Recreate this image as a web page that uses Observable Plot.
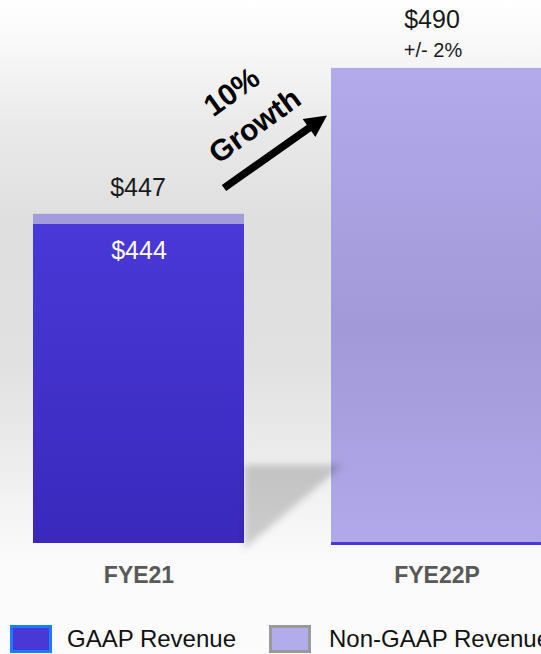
<!DOCTYPE html>
<html>
<head>
<meta charset="utf-8">
<script src="https://cdn.jsdelivr.net/npm/d3@7"></script>
<script src="https://cdn.jsdelivr.net/npm/@observablehq/plot@0.6"></script>
<style>
  html, body { margin: 0; padding: 0; }
  body {
    width: 541px; height: 654px; overflow: hidden; position: relative;
    font-family: "Liberation Sans", Arial, sans-serif;
    background: linear-gradient(to bottom, #ffffff 0px, #fbfbfb 30px, #e9e9e9 130px, #dfdfdf 220px, #e1e1e1 360px, #ebebeb 450px, #f4f4f4 510px, #fafafa 555px, #fcfcfc 654px);
  }
  #chart svg { display: block; }
  .legend { position: absolute; left: 0; top: 625px; width: 541px; height: 29px; }
  .sw { position: absolute; top: 0; width: 42px; height: 28px; box-sizing: border-box; border: 3px solid; }
  .lt { position: absolute; top: 0; height: 28px; line-height: 28px; font-size: 24px; color: #111; white-space: nowrap; }
</style>
</head>
<body>
<div id="chart"></div>
<div class="legend">
  <div class="sw" style="left:10px;background:#4a38d6;border-color:#1a7cff"></div>
  <div class="lt" style="left:67px">GAAP Revenue</div>
  <div class="sw" style="left:269px;background:#b3acea;border-color:#9a9a9a"></div>
  <div class="lt" style="left:329px">Non-GAAP Revenue</div>
</div>
<script>
// ---- data ----
const periods = ["FYE21", "FYE22P"];
const gaapRevenue = [444, null];
const nonGaapRevenue = [447, 490];
const totalLabels = ["$447", "$490"];
const gaapLabels = ["$444", null];
const guidanceNotes = [null, "+/- 2%"];
const growthLabels = ["10%", "Growth"];
const growthLabelValues = [483, 473];
const axisBase = 350;
const axisTop = 510;
const arrowFrom = {period: "FYE21", value: 454.6};
const arrowTo = {period: "FYE22P", value: 476};

const rows = periods.map((p, i) => ({
  period: p, gaap: gaapRevenue[i], nonGaap: nonGaapRevenue[i],
  total: totalLabels[i], gaapLabel: gaapLabels[i], note: guidanceNotes[i]
}));
const gaapRows = rows.filter(d => d.gaap != null);
const baseRows = rows.filter(d => d.gaap == null);

const plot = Plot.plot({
  width: 541, height: 600,
  marginTop: 0, marginBottom: 57, marginLeft: 0, marginRight: 0,
  style: {background: "transparent", fontFamily: "'Liberation Sans', Arial, sans-serif", overflow: "visible"},
  x: {domain: periods, range: [33, 542], paddingInner: 0.292, paddingOuter: 0, axis: null},
  y: {domain: [axisBase, axisTop], axis: null},
  marks: [
    Plot.barY(rows.filter(d => d.period === "FYE21"), {x: "period", y1: axisBase, y2: "nonGaap", fill: "#a39cdc"}),
    Plot.barY(rows.filter(d => d.period !== "FYE21"), {x: "period", y1: axisBase, y2: "nonGaap", fill: "url(#gLight)"}),
    Plot.barY(gaapRows, {x: "period", y1: axisBase, y2: "gaap", fill: "url(#gDark)"}),
    Plot.tickY(baseRows, {x: "period", y: axisBase, stroke: "#4a38d6", strokeWidth: 3}),
    Plot.text(rows.filter(d => d.period === "FYE21"), {x: "period", y: "nonGaap", text: "total", dx: -1, dy: -26, fontSize: 25, fill: "#1a1a1a"}),
    Plot.text(rows.filter(d => d.period !== "FYE21"), {x: "period", y: "nonGaap", text: "total", dx: -5, dy: -48, fontSize: 25, fill: "#1a1a1a"}),
    Plot.text(rows.filter(d => d.note), {x: "period", y: "nonGaap", text: "note", dx: -4, dy: -18, fontSize: 20, fill: "#1a1a1a"}),
    Plot.text(gaapRows, {x: "period", y: "gaap", text: "gaapLabel", dy: 27, fontSize: 25, fill: "#ffffff"}),
    Plot.text(periods, {x: d => d, frameAnchor: "bottom", lineAnchor: "top", dy: 23, fontSize: 23, fontWeight: "bold", fill: "#595959", letterSpacing: "1.5px"}),
    Plot.text([growthLabels[0]], {x: () => "FYE21", y: () => growthLabelValues[0], text: d => d, dx: 93, rotate: -36, fontSize: 30, fontWeight: "bold", fill: "#000"}),
    Plot.text([growthLabels[1]], {x: () => "FYE21", y: () => growthLabelValues[1], text: d => d, dx: 116, rotate: -36, fontSize: 30, fontWeight: "bold", fill: "#000"})
  ]
});
document.getElementById("chart").appendChild(plot);

// gradients, shadow and arrow drawn with the plot's scales
const svg = d3.select(plot);
const defs = svg.insert("defs", ":first-child");
const gd = defs.append("linearGradient").attr("id", "gDark").attr("x1", 0).attr("y1", 0).attr("x2", 0).attr("y2", 1);
gd.append("stop").attr("offset", 0).attr("stop-color", "#4a38d7");
gd.append("stop").attr("offset", 1).attr("stop-color", "#3a29bc");
const gl = defs.append("linearGradient").attr("id", "gLight").attr("x1", 0).attr("y1", 0).attr("x2", 0).attr("y2", 1);
gl.append("stop").attr("offset", 0).attr("stop-color", "#b2aaea");
gl.append("stop").attr("offset", 0.55).attr("stop-color", "#a299d9");
gl.append("stop").attr("offset", 1).attr("stop-color", "#b1a9e9");
const blur = defs.append("filter").attr("id", "blur").attr("x", "-20%").attr("y", "-20%").attr("width", "140%").attr("height", "140%");
blur.append("feGaussianBlur").attr("stdDeviation", 3.5);

const xs = plot.scale("x"), ys = plot.scale("y");
const bw = xs.bandwidth;
const X = v => xs.apply(v), Y = v => ys.apply(v);

// soft floor shadow between the bars
const sx0 = X("FYE21") + bw, sx1 = X("FYE22P") + 12;
const sy0 = Y(373), sy1 = Y(axisBase) + 6;
svg.append("path")
  .attr("d", `M${sx0},${sy0}L${sx1},${sy0}L${sx0},${sy1}Z`)
  .attr("fill", "#000").attr("fill-opacity", 0.18).attr("filter", "url(#blur)");

// growth arrow
const tx = X(arrowFrom.period) + bw - 20, ty = Y(arrowFrom.value);
const hx = X(arrowTo.period) - 4, hy = Y(arrowTo.value);
const L = Math.hypot(hx - tx, hy - ty);
const ux = (hx - tx) / L, uy = (hy - ty) / L;
const nx = -uy, ny = ux;
const hl = 22, hw = 11;
const bx = hx - hl * ux, by = hy - hl * uy;
const g = svg.append("g");
g.append("line").attr("x1", tx).attr("y1", ty).attr("x2", bx + 2 * ux).attr("y2", by + 2 * uy)
  .attr("stroke", "#000").attr("stroke-width", 7.5);
g.append("path").attr("d", `M${hx},${hy}L${bx + hw * nx},${by + hw * ny}L${bx - hw * nx},${by - hw * ny}Z`).attr("fill", "#000");
</script>
</body>
</html>
